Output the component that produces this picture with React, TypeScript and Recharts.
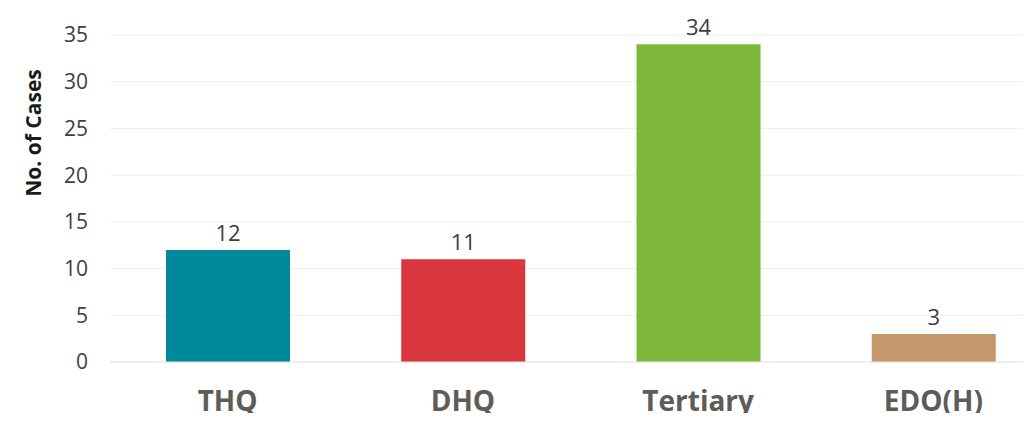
import { Bar, BarChart, CartesianGrid, Cell, LabelList, XAxis, YAxis } from "recharts";

const facilities = ["THQ", "DHQ", "Tertiary", "EDO(H)"];
const cases = [12, 11, 34, 3];
const barColors = ["#00899a", "#d9363e", "#7db83a", "#c4986a"];
const yTicks = [0, 5, 10, 15, 20, 25, 30, 35];

const data = facilities.map((name, i) => ({ name, cases: cases[i] }));

const FONT = "'Open Sans', sans-serif";

function XTick({ x, y, payload }: any) {
  return (
    <text
      x={x}
      y={y + 41}
      textAnchor="middle"
      fill="#5f5b59"
      fontSize={28}
      fontWeight={700}
      fontFamily={FONT}
    >
      {payload.value}
    </text>
  );
}

function YTitle({ viewBox }: any) {
  const cx = 33;
  const cy = viewBox.y + 98;
  return (
    <text
      x={cx}
      y={cy}
      transform={`rotate(-90, ${cx}, ${cy})`}
      textAnchor="middle"
      dominantBaseline="central"
      fill="#1a1a1a"
      fontSize={21}
      fontWeight={700}
      fontFamily={FONT}
    >
      No. of Cases
    </text>
  );
}

export default function App() {
  return (
    <div
      style={{
        margin: -8,
        width: 1031,
        height: 421,
        overflow: "hidden",
        position: "relative",
        background: "#fff",
      }}
    >
      <div
        style={{
          position: "absolute",
          left: 1,
          top: 3,
          right: 0,
          bottom: 0,
          borderTop: "1px solid #ececec",
          borderLeft: "1px solid #e2e2e2",
        }}
      />
      <BarChart
        width={1051}
        height={421}
        data={data}
        margin={{ top: 35, right: 0, left: 0, bottom: 0 }}
        style={{ position: "absolute", left: 0, top: 0 }}
      >
        <CartesianGrid vertical={false} stroke="#ededed" />
        <XAxis
          dataKey="name"
          height={59}
          axisLine={{ stroke: "#e6e6e6" }}
          tickLine={false}
          tick={<XTick />}
        />
        <YAxis
          width={110}
          domain={[0, 35]}
          ticks={yTicks}
          axisLine={false}
          tickLine={false}
          tickSize={0}
          tickMargin={22}
          tick={{ fill: "#404040", fontSize: 21, fontFamily: FONT }}
          label={{ content: <YTitle /> }}
        />
        <Bar dataKey="cases" barSize={124} isAnimationActive={false}>
          {data.map((d, i) => (
            <Cell key={d.name} fill={barColors[i]} />
          ))}
          <LabelList
            dataKey="cases"
            position="top"
            offset={9}
            fill="#404040"
            fontSize={22}
            fontFamily={FONT}
          />
        </Bar>
      </BarChart>
    </div>
  );
}
